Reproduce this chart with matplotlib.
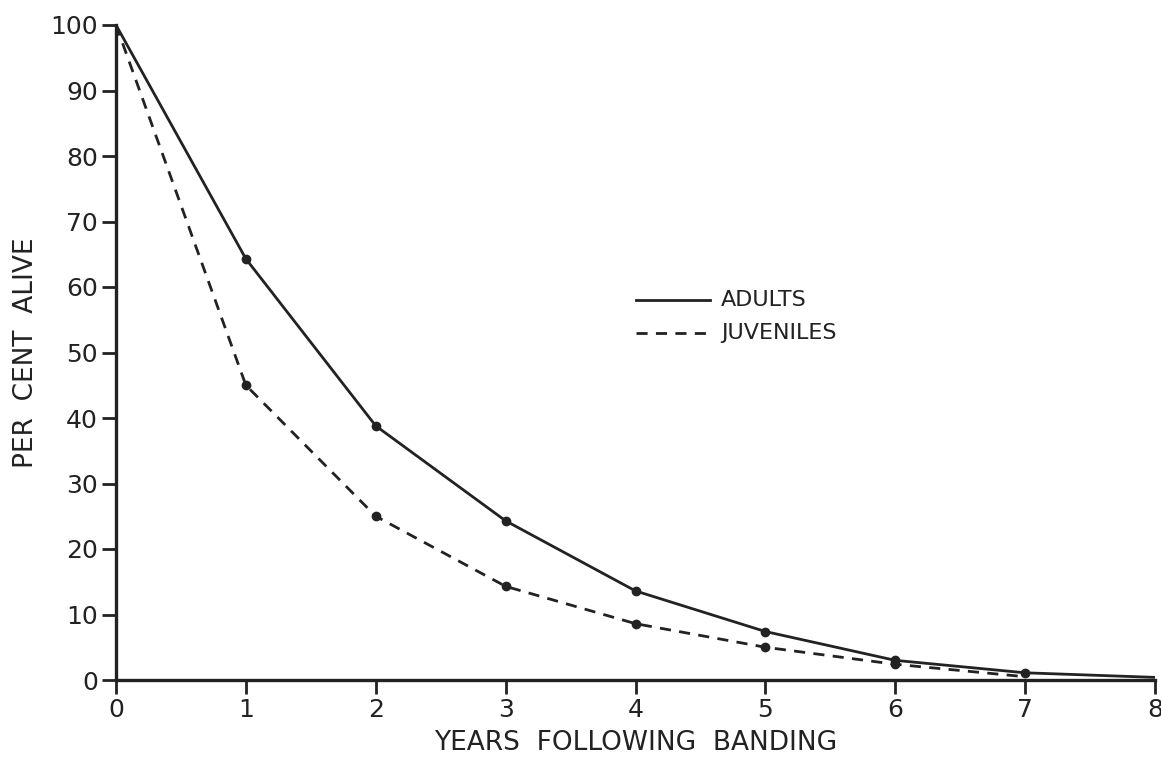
import matplotlib
matplotlib.use('Agg')
import matplotlib.pyplot as plt

# data
years = [0, 1, 2, 3, 4, 5, 6, 7, 8]
adults = [100, 64.3, 38.8, 24.3, 13.6, 7.4, 3.0, 1.1, 0.4]
juv_years = [0, 1, 2, 3, 4, 5, 6, 7]
juveniles = [100, 45.0, 25.0, 14.3, 8.6, 5.0, 2.4, 0.5]
xticks = [0, 1, 2, 3, 4, 5, 6, 7, 8]
yticks = [0, 10, 20, 30, 40, 50, 60, 70, 80, 90, 100]

plt.rcParams['font.family'] = ['DejaVu Sans']

fig = plt.figure(figsize=(11.61, 7.68), dpi=100)
ax = fig.add_axes([116/1161, 88/768, (1155-116)/1161, (680-25)/768])

ax.plot(years, adults, color='#222222', lw=2.0)
ax.plot(years[1:8], adults[1:8], 'o', color='#222222', ms=6)
ax.plot(juv_years, juveniles, color='#222222', lw=2.0, ls=(0, (4, 3)))
ax.plot(juv_years[1:7], juveniles[1:7], 'o', color='#222222', ms=6)

ax.set_xlim(0, 8)
ax.set_ylim(0, 100)
ax.set_xticks(xticks)
ax.set_yticks(yticks)
ax.tick_params(direction='out', length=10, width=2, labelsize=18, pad=3, color='#222222', labelcolor='#222222')
for s in ['top', 'right']:
    ax.spines[s].set_visible(False)
for s in ['left', 'bottom']:
    ax.spines[s].set_linewidth(2.4)
    ax.spines[s].set_color('#222222')

ax.set_xlabel('YEARS  FOLLOWING  BANDING', fontsize=19, labelpad=6, color='#222222')
ax.set_ylabel('PER  CENT  ALIVE', fontsize=19, labelpad=8, color='#222222')

# legend drawn by hand in data coords
ax.plot([4.0, 4.57], [58.0, 58.0], color='#222222', lw=2.0)
ax.plot([4.0, 4.57], [53.0, 53.0], color='#222222', lw=2.0, ls=(0, (4, 3)))
ax.text(4.66, 58.0, 'ADULTS', fontsize=16, va='center', color='#222222')
ax.text(4.66, 53.0, 'JUVENILES', fontsize=16, va='center', color='#222222')

fig.savefig('out.png', dpi=100)
